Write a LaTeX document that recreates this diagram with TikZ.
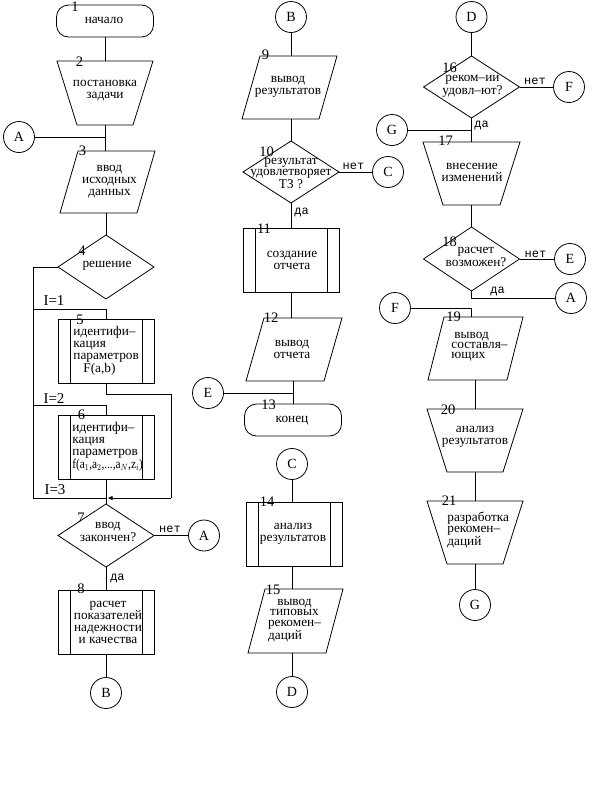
\documentclass[tikz,border=0pt]{standalone}
\usepackage{fontspec}
\setmainfont{Liberation Serif}
\newfontfamily\monofnt{Liberation Mono}
\usetikzlibrary{arrows.meta}
\tikzset{
  blk/.style={rectangle, inner sep=0pt, outer sep=0pt, minimum width=96pt, minimum height=64pt},
  pre/.style={blk, draw},
  term/.style={rectangle, draw, rounded corners=12pt, minimum width=97pt, minimum height=32pt, inner sep=0pt, outer sep=0pt},
  conn/.style={circle, draw, minimum size=31pt, inner sep=0pt, outer sep=0pt, font=\fontsize{14}{14}\selectfont},
  num/.style={font=\fontsize{14.5}{14.5}\selectfont, inner sep=0pt},
  txt/.style={align=center, font=\fontsize{13.3}{12}\selectfont, inner sep=0pt},
  txtl/.style={align=left, font=\fontsize{13.3}{12}\selectfont, inner sep=0pt, anchor=west},
  txtt/.style={align=center, font=\fontsize{13.3}{10.2}\selectfont, inner sep=0pt},
  txttl/.style={align=left, font=\fontsize{13.3}{10.2}\selectfont, inner sep=0pt, anchor=west},
  yn/.style={font=\monofnt\fontsize{12}{12}\selectfont, inner sep=0pt},
  ilab/.style={font=\fontsize{15}{15}\selectfont, inner sep=0pt},
}
\newcommand\shpTrap[1]{\draw (#1.north west) -- (#1.north east) -- ([xshift=-20pt]#1.south east) -- ([xshift=20pt]#1.south west) -- cycle;}
\newcommand\shpPara[2]{\draw ([xshift=#2]#1.north west) -- (#1.north east) -- ([xshift=-#2]#1.south east) -- (#1.south west) -- cycle;}
\newcommand\shpPre[1]{\draw ([xshift=12pt]#1.north west) -- ([xshift=12pt]#1.south west) ([xshift=-12pt]#1.north east) -- ([xshift=-12pt]#1.south east);}
\newcommand\shpDia[1]{\draw (#1.north) -- (#1.east) -- (#1.south) -- (#1.west) -- cycle;}
\begin{document}
\begin{tikzpicture}[x=1pt,y=-1pt,line width=0.8pt]
\useasboundingbox (0,0) rectangle (597,801);
\fill[white] (0,0) rectangle (597,801);

% ---------- column 1
\node[term] (s1) at (105,21) {};
\node[blk] (s2) at (105,93) {}; \shpTrap{s2}
\node[blk, minimum width=95pt, minimum height=62pt] (s3) at (107.5,182) {}; \shpPara{s3}{18pt}
\node[blk] (s4) at (106,267) {}; \shpDia{s4}
\node[pre] (s5) at (106,351) {}; \shpPre{s5}
\node[pre] (s6) at (106,447) {}; \shpPre{s6}
\node[blk, minimum height=63pt] (s7) at (106,535.5) {}; \shpDia{s7}
\node[pre] (s8) at (106,622) {}; \shpPre{s8}
\node[conn] (cA1) at (19,137) {A};
\node[conn] (cA2) at (204,535.5) {A};
\node[conn] (cB1) at (106,693) {B};

% ---------- column 2
\node[conn] (cB2) at (291,17) {B};
\node[blk, minimum width=95pt, minimum height=63pt] (s9) at (289.5,87.5) {}; \shpPara{s9}{18pt}
\node[blk, minimum height=62pt] (s10) at (291,172) {}; \shpDia{s10}
\node[conn] (cC1) at (388,172) {C};
\node[pre] (s11) at (291,260) {}; \shpPre{s11}
\node[blk, minimum height=63pt] (s12) at (294,349.5) {}; \shpPara{s12}{18pt}
\node[conn] (cE1) at (208,393) {E};
\node[term] (s13) at (293,420) {};
\node[conn] (cC2) at (292,464) {C};
\node[pre] (s14) at (294,534) {}; \shpPre{s14}
\node[blk, minimum width=95pt] (s15) at (295.5,621) {}; \shpPara{s15}{17pt}
\node[conn] (cD1) at (292,692) {D};

% ---------- column 3
\node[conn] (cD2) at (471.5,17) {D};
\node[blk, minimum height=62pt] (s16) at (471.5,87) {}; \shpDia{s16}
\node[conn] (cF1) at (569,87) {F};
\node[conn] (cG1) at (392,130) {G};
\node[blk, minimum width=97pt, minimum height=63pt] (s17) at (471.5,173.5) {}; \shpTrap{s17}
\node[blk] (s18) at (471.5,259) {}; \shpDia{s18}
\node[conn] (cE2) at (570,259) {E};
\node[conn] (cA3) at (571,298) {A};
\node[conn] (cF2) at (395,308) {F};
\node[blk, minimum width=95pt, minimum height=63pt] (s19) at (475.5,348.5) {}; \shpPara{s19}{16pt}
\node[blk, minimum height=63pt] (s20) at (475,440.5) {}; \shpTrap{s20}
\node[blk, minimum height=63pt] (s21) at (475,532.5) {}; \shpTrap{s21}
\node[conn] (cG2) at (475,605) {G};

% ---------- texts
\node[txt] (t1) at (104,20) {начало};
\node[txt] (t2) at (105,91) {постановка\\задачи};
\node[txt] (t3) at (109.5,182) {ввод\\исходных\\данных};
\node[txt] (t4) at (107,266) {решение};
\node[txtl] (t5) at (73,351) {идентифи–\\кация\\параметров\\\hspace*{10pt}F(a,b)};
\node[txtl] (t6) at (72,447) {идентифи–\\кация\\параметров\\\scalebox{0.85}[1]{f(a$_1$,a$_2$,...,a$_N$,z$_i$)}};
\node[txt, font=\fontsize{13.3}{11}\selectfont] (t7) at (108,532) {ввод\\закончен?};
\node[txt] (t8) at (108,622) {расчет\\показателей\\надежности\\и качества};
\node[txt] (t9) at (288,87) {вывод\\результатов};
\node[txt, font=\fontsize{13.3}{11}\selectfont] (t10) at (291,173.5) {результат\\удовлетворяет\\ТЗ ?};
\node[txt] (t11) at (292,260.5) {создание\\отчета};
\node[txt] (t12) at (292,349) {вывод\\отчета};
\node[txt] (t13) at (292,421) {конец};
\node[txt] (t14) at (293,534) {анализ\\результатов};
\node[txtt] (t15) at (294.5,620.5) {вывод\\типовых\\рекомен–\\\makebox[0pt][l]{даций}\hphantom{рекомен–}};
\node[txt, font=\fontsize{13.3}{11.5}\selectfont] (t16) at (472.5,86) {реком–ии\\удовл–ют?};
\node[txt] (t17) at (472,172) {внесение\\изменений};
\node[txt, font=\fontsize{13.3}{11.5}\selectfont] (t18) at (476,257) {расчет\\возможен?};
\node[txttl] (t19) at (451,347) {\hspace*{3pt}вывод\\составля–\\ющих};
\node[txt] (t20) at (475,436.5) {анализ\\результатов};
\node[txttl] (t21) at (447,530) {разработка\\рекомен–\\даций};

% ---------- numbers
\node[num] (k1) at (75,7) {1};
\node[num] (k2) at (79.5,62) {2};
\node[num] (k3) at (82.5,151) {3};
\node[num] (k4) at (82,251) {4};
\node[num] (k5) at (80,319.5) {5};
\node[num] (k6) at (81.5,415) {6};
\node[num] (k7) at (81,518) {7};
\node[num] (k8) at (81,589) {8};
\node[num] (k9) at (265.5,55) {9};
\node[num] (k10) at (266.5,152) {10};
\node[num] (k11) at (264,228.5) {11};
\node[num] (k12) at (271,318) {12};
\node[num] (k13) at (268.5,404.5) {13};
\node[num] (k14) at (267,502) {14};
\node[num] (k15) at (273,589.5) {15};
\node[num] (k16) at (449.5,68) {16};
\node[num] (k17) at (445.5,141) {17};
\node[num] (k18) at (449.5,241.5) {18};
\node[num] (k19) at (453.5,317) {19};
\node[num] (k20) at (448,409.5) {20};
\node[num] (k21) at (449,500.5) {21};

% ---------- branch labels
\node[ilab] (i1) at (54,301) {I=1};
\node[ilab] (i2) at (54,399) {I=2};
\node[ilab] (i3) at (55,490) {I=3};
\node[yn] (y7n) at (170,529) {нет};
\node[yn] (y7d) at (117.5,578) {да};
\node[yn] (y10n) at (353.5,166.5) {нет};
\node[yn] (y10d) at (301.5,212.5) {да};
\node[yn] (y16n) at (535,81) {нет};
\node[yn] (y16d) at (481.5,125) {да};
\node[yn] (y18n) at (535.5,254) {нет};
\node[yn] (y18d) at (497.5,291) {да};

% ---------- coordinates for the loop
\coordinate (lpT) at (33,267);
\coordinate (lpB) at (33,498);
\coordinate (jn) at (106,498);
\coordinate (br1) at (33,309);
\coordinate (br2) at (33,405);
\coordinate (rT) at (171,394);
\coordinate (rB) at (171,498);

% ---------- connectors column 1
\draw (s1.south) -- (s2.north);
\draw (s2.south) -- (s2.south |- s3.north);
\draw (cA1.east) -- (cA1.east -| s2.south);
\draw (s4.north |- s3.south) -- (s4.north);
\draw (s4.west) -- (lpT) -- (lpB) -- (jn);
\draw (br1) -| (s5.north);
\draw (br2) -| (s6.north);
\draw (s5.south) |- (rT) -- (rB);
\draw[-{Latex[length=5pt,width=4.5pt]}, shorten >=1.5pt] (rB) -- (jn);
\draw (s6.south) -- (s7.north);
\draw (s7.east) -- (cA2.west);
\draw (s7.south) -- (s8.north);
\draw (s8.south) -- (cB1.north);

% ---------- connectors column 2
\draw (cB2.south) -- (cB2.south |- s9.north);
\draw (cB2.south |- s9.south) -- (s10.north);
\draw (s10.east) -- (cC1.west);
\draw (s10.south) -- (s11.north);
\draw (s11.south) -- (s11.south |- s12.north);
\draw (s12.south -| s13.north) -- (s13.north);
\draw (cE1.east) -- (cE1.east -| s13.north);
\draw (cC2.south) -- (cC2.south |- s14.north);
\draw (cC2.south |- s14.south) -- (cC2.south |- s15.north);
\draw (cC2.south |- s15.south) -- (cD1.north);

% ---------- connectors column 3
\draw (cD2.south) -- (s16.north);
\draw (s16.east) -- (cF1.west);
\draw (s16.south) -- (s17.north);
\draw (cG1.east) -- (cG1.east -| s16.south);
\draw (s17.south) -- (s18.north);
\draw (s18.east) -- (cE2.west);
\draw (s18.south) |- (cA3.west);
\draw (cF2.east) -| (s18.south |- s19.north);
\draw (s20.north |- s19.south) -- (s20.north);
\draw (s20.south) -- (s21.north);
\draw (s21.south) -- (cG2.north);
\end{tikzpicture}
\end{document}
